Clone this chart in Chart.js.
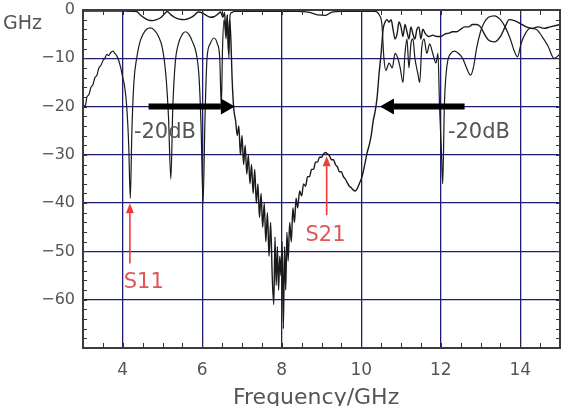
<!DOCTYPE html>
<html>
<head>
<meta charset="utf-8">
<script src="https://cdn.jsdelivr.net/npm/chart.js@4/dist/chart.umd.min.js"></script>
<style>
  html, body { margin: 0; padding: 0; background: #fff; }
  canvas { display: block; }
</style>
</head>
<body>
<canvas id="chart" width="569" height="406"></canvas>
<script>
// axis ticks
const xTicks = [4, 6, 8, 10, 12, 14]
const yTicks = [0, -10, -20, -30, -40, -50, -60]

// S11 (reflection)
const s11Freq = [
  3.00, 3.05, 3.10, 3.15, 3.20, 3.25, 3.30, 3.35, 3.40, 3.45, 3.50, 3.55, 3.60, 3.65, 3.70, 3.75,
  3.80, 3.85, 3.90, 3.95, 4.00, 4.05, 4.10, 4.15, 4.19, 4.23, 4.28, 4.35, 4.42, 4.50, 4.60, 4.70,
  4.80, 4.90, 5.00, 5.08, 5.15, 5.21, 5.26, 5.32, 5.40, 5.50, 5.58, 5.66, 5.75, 5.85, 5.92, 5.97,
  6.02, 6.07, 6.12, 6.20, 6.29, 6.38, 6.44, 6.48, 6.51, 6.55, 6.60, 6.63, 6.67, 6.70, 6.75, 6.80,
  7.20, 7.80, 8.40, 8.70, 8.90, 9.10, 9.25, 9.50, 10.00, 10.35, 10.45, 10.52, 10.57, 10.62, 10.70,
  10.78, 10.85, 10.92, 10.98, 11.05, 11.10, 11.15, 11.20, 11.25, 11.30, 11.35, 11.42, 11.47, 11.52,
  11.58, 11.65, 11.72, 11.80, 11.88, 11.93, 11.97, 12.02, 12.05, 12.09, 12.15, 12.25, 12.35, 12.45,
  12.55, 12.65, 12.75, 12.82, 12.90, 13.00, 13.10, 13.20, 13.35, 13.50, 13.62, 13.75, 13.85, 13.93,
  14.02, 14.12, 14.25, 14.40, 14.55, 14.70, 14.85, 14.95, 15.00
]
const s11Db = [
  -19.5, -20, -18, -17.5, -16, -15.5, -14, -13.5, -12, -11.5, -10.5, -10, -9.2, -9.4, -8.8, -8.5,
  -9, -9.5, -10.5, -12, -14, -16, -20, -28, -39, -25, -15, -10, -7, -5.2, -4, -3.7,
  -4.2, -5.5, -8, -13, -22, -35, -20, -11, -7, -5, -4.5, -5, -6.5, -9, -14, -24,
  -40, -22, -10, -7, -5.8, -7, -10, -20, -8, -2, -6, -1, -10, -1, -0.5, -0.3,
  -0.3, -0.3, -0.3, -0.5, -1, -1.1, -0.5, -0.3, -0.3, -0.3, -1, -3, -10, -12.5, -11,
  -12, -9, -10, -12, -15, -9, -6, -12, -7, -6, -10, -13, -15, -8,
  -6, -9, -7, -9, -11, -9, -20, -30, -36, -20, -12, -9, -8.5, -9,
  -10, -12, -13.5, -12, -8, -4.5, -2.5, -1.5, -1.2, -2, -3.5, -6, -8.5, -9.7,
  -7, -5, -3.8, -4, -5.5, -7.5, -10, -9.5, -9
]

// S21 (transmission)
const s21Freq = [
  3.00, 3.50, 4.00, 4.35, 4.45, 4.55, 4.65, 4.75, 4.85, 4.95, 5.05, 5.12, 5.20, 5.30, 5.42, 5.55,
  5.68, 5.80, 5.90, 6.00, 6.10, 6.20, 6.30, 6.40, 6.46, 6.52, 6.56, 6.60, 6.63, 6.66, 6.69, 6.72,
  6.75, 6.78, 6.80, 6.84, 6.88, 6.92, 6.96, 7.00, 7.04, 7.08, 7.12, 7.16, 7.20, 7.24, 7.28, 7.32,
  7.36, 7.40, 7.44, 7.48, 7.52, 7.56, 7.60, 7.64, 7.68, 7.72, 7.76, 7.80, 7.83, 7.86, 7.89, 7.92,
  7.95, 7.98, 8.01, 8.04, 8.07, 8.10, 8.13, 8.16, 8.20, 8.24, 8.28, 8.32, 8.36, 8.40, 8.45, 8.50,
  8.55, 8.60, 8.65, 8.70, 8.75, 8.80, 8.85, 8.90, 8.95, 9.00, 9.05, 9.10, 9.15, 9.20, 9.25, 9.30,
  9.35, 9.40, 9.45, 9.50, 9.55, 9.60, 9.65, 9.70, 9.75, 9.80, 9.85, 9.90, 9.95, 10.00, 10.05, 10.10,
  10.15, 10.20, 10.25, 10.30, 10.35, 10.40, 10.45, 10.50, 10.55, 10.60, 10.65, 10.70, 10.75, 10.80,
  10.85, 10.90, 10.95, 11.00, 11.05, 11.10, 11.15, 11.20, 11.25, 11.30, 11.35, 11.40, 11.45, 11.50,
  11.55, 11.62, 11.70, 11.80, 11.90, 12.00, 12.10, 12.20, 12.30, 12.40, 12.50, 12.60, 12.70, 12.80,
  12.90, 13.00, 13.10, 13.20, 13.35, 13.50, 13.62, 13.72, 13.85, 14.00, 14.15, 14.30, 14.45, 14.60,
  14.75, 14.90, 15.00
]
const s21Db = [
  -0.2, -0.2, -0.2, -0.3, -1.1, -1.7, -2.1, -2.2, -2.0, -1.6, -0.8, -0.3, -0.9, -1.5, -1.9, -2.0,
  -1.7, -1.1, -0.4, -0.6, -1.1, -1.5, -1.4, -0.8, -0.4, -1.5, -0.5, -5, -1, -9, -2, -6,
  -14, -19, -21, -23, -26, -24, -30, -26, -32, -28, -34, -30, -36, -32, -38, -33,
  -40, -36, -43, -38, -45, -40, -48, -42, -51, -44, -55, -61, -47, -57, -49, -58,
  -51, -55, -48, -66, -49, -58, -46, -52, -44, -48, -41, -44, -39, -41, -37.5, -38.5,
  -36, -36.5, -34.5, -34.5, -33, -33, -31.5, -31.5, -30.5, -30.5, -29.8, -29.5, -29.8, -30.2, -31, -31,
  -32, -32.5, -33.5, -33.5, -34.5, -35, -35.8, -36.5, -36.8, -37.3, -37.5, -37, -36, -35, -33.5, -31.5,
  -29.5, -28, -26, -23, -21, -18, -13, -9, -4, -2.5, -2, -2.5, -2, -4,
  -6, -5, -2.5, -3.5, -5.5, -3, -4.5, -6, -3.5, -5, -6, -4, -3.5, -6,
  -4, -5, -5.5, -5.2, -5.5, -5.5, -5, -4.8, -4.5, -4.5, -4, -3.5, -3.5, -3,
  -3, -3.5, -5, -6.2, -6.6, -5.5, -3.5, -2, -2.2, -2.8, -3.5, -3.8, -3.5, -3.8,
  -3.5, -3.2, -3
]

const toPoints = (xs, ys) => xs.map((x, i) => ({ x, y: ys[i] }))

Chart.defaults.font.family = 'DejaVu Sans'

// arrow from (x0,y0) to (x1,y1) in pixels, head at the end
function arrow(ctx, x0, y0, x1, y1, width, headLen, headHalf, color) {
    const ang = Math.atan2(y1 - y0, x1 - x0)
    const bx = x1 - Math.cos(ang) * headLen
    const by = y1 - Math.sin(ang) * headLen
    ctx.strokeStyle = color
    ctx.fillStyle = color
    ctx.lineWidth = width
    ctx.beginPath()
    ctx.moveTo(x0, y0)
    ctx.lineTo(bx, by)
    ctx.stroke()
    ctx.beginPath()
    ctx.moveTo(x1, y1)
    ctx.lineTo(bx + Math.sin(ang) * headHalf, by - Math.cos(ang) * headHalf)
    ctx.lineTo(bx - Math.sin(ang) * headHalf, by + Math.cos(ang) * headHalf)
    ctx.closePath()
    ctx.fill()
}

// box, inward minor ticks, arrows and labels
const decorations = {
    id: 'decorations',
    afterDraw(chart) {
        const { ctx, chartArea: a, scales: { x, y } } = chart
        ctx.save()

        ctx.strokeStyle = '#333'
        ctx.lineWidth = 1
        ctx.beginPath()
        for (let v = 3.5; v < 15; v += 0.5) {
            const px = Math.round(x.getPixelForValue(v)) + 0.5
            ctx.moveTo(px, a.bottom); ctx.lineTo(px, a.bottom - 5)
            ctx.moveTo(px, a.top); ctx.lineTo(px, a.top + 5)
        }
        for (let v = -68; v < 0; v += 2) {
            const py = Math.round(y.getPixelForValue(v)) + 0.5
            ctx.moveTo(a.left, py); ctx.lineTo(a.left + 4, py)
            ctx.moveTo(a.right, py); ctx.lineTo(a.right - 4, py)
        }
        ctx.stroke()
        ctx.lineWidth = 2
        ctx.strokeStyle = '#3c3c3c'
        ctx.strokeRect(a.left, a.top, a.right - a.left, a.bottom - a.top)

        // -20 dB markers
        arrow(ctx, x.getPixelForValue(4.65), y.getPixelForValue(-20), x.getPixelForValue(6.82), y.getPixelForValue(-20), 6, 14, 8, '#000')
        arrow(ctx, x.getPixelForValue(12.6), y.getPixelForValue(-20), x.getPixelForValue(10.47), y.getPixelForValue(-20), 6, 14, 8, '#000')

        // S11 / S21 pointers
        arrow(ctx, x.getPixelForValue(4.18), y.getPixelForValue(-52.5), x.getPixelForValue(4.18), y.getPixelForValue(-40), 1.6, 10, 4, '#f03a3a')
        arrow(ctx, x.getPixelForValue(9.13), y.getPixelForValue(-42.5), x.getPixelForValue(9.13), y.getPixelForValue(-30.3), 1.6, 10, 4, '#f03a3a')

        ctx.textBaseline = 'middle'
        ctx.textAlign = 'left'
        ctx.font = '21px "DejaVu Sans"'
        ctx.fillStyle = '#555'
        ctx.fillText('-20dB', x.getPixelForValue(4.28), y.getPixelForValue(-25.3))
        ctx.fillText('-20dB', x.getPixelForValue(12.18), y.getPixelForValue(-25.3))

        ctx.textAlign = 'center'
        ctx.fillStyle = '#e05656'
        ctx.fillText('S11', x.getPixelForValue(4.53), y.getPixelForValue(-56.5))
        ctx.fillText('S21', x.getPixelForValue(9.1), y.getPixelForValue(-46.8))

        // axis captions
        ctx.fillStyle = '#555'
        ctx.textAlign = 'left'
        ctx.textBaseline = 'alphabetic'
        ctx.font = '19px "DejaVu Sans"'
        ctx.fillText('GHz', 3, 29)
        ctx.font = '22px "DejaVu Sans"'
        ctx.fillText('Frequency/GHz', 233, 404)
        ctx.restore()
    }
}

const gridColor = '#1d1d72'

// keep tick labels from pushing the plot box around
const noLabelPadding = scale => {
    scale.paddingTop = 0
    scale.paddingBottom = 0
    scale.paddingLeft = 0
    scale.paddingRight = 0
}

new Chart(document.getElementById('chart'), {
    type: 'line',
    data: {
        datasets: [
            {
                label: 'S11',
                data: toPoints(s11Freq, s11Db),
                borderColor: '#1a1a1a',
                borderWidth: 1.2,
                pointRadius: 0,
                cubicInterpolationMode: 'monotone',
            },
            {
                label: 'S21',
                data: toPoints(s21Freq, s21Db),
                borderColor: '#1a1a1a',
                borderWidth: 1.4,
                pointRadius: 0,
                cubicInterpolationMode: 'monotone',
            },
        ],
    },
    options: {
        responsive: false,
        animation: false,
        layout: { padding: { top: 10, right: 9, left: 0, bottom: 0 } },
        plugins: { legend: { display: false }, tooltip: { enabled: false } },
        scales: {
            x: {
                type: 'linear',
                min: 3,
                max: 15,
                afterBuildTicks: scale => { scale.ticks = xTicks.map(value => ({ value })) },
                afterFit: scale => { scale.height = 58; noLabelPadding(scale) },
                border: { display: false },
                grid: { color: gridColor, lineWidth: 1.3, drawTicks: false },
                ticks: { padding: 12, color: '#555', font: { size: 17 } },
            },
            y: {
                type: 'linear',
                min: -70,
                max: 0,
                afterBuildTicks: scale => { scale.ticks = yTicks.map(value => ({ value })) },
                afterFit: scale => { scale.width = 83; noLabelPadding(scale) },
                border: { display: false },
                grid: { color: gridColor, lineWidth: 1.3, drawTicks: false },
                ticks: {
                    padding: 8,
                    color: '#555',
                    font: { size: 16 },
                    callback: v => String(v).replace('-', '\u2212'),
                },
            },
        },
    },
    plugins: [decorations],
})
</script>
</body>
</html>
